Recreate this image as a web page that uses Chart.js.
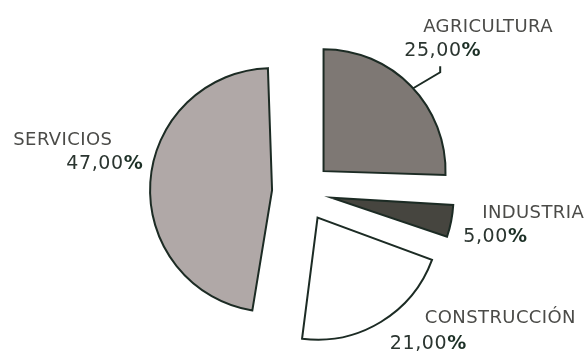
<!DOCTYPE html>
<html>
<head>
<meta charset="utf-8">
<script src="https://cdn.jsdelivr.net/npm/chart.js@4/dist/chart.umd.min.js"></script>
<style>
    html, body { margin: 0; padding: 0; background: #fff; }
    #wrap { width: 586px; height: 352px; }
</style>
</head>
<body>
<div id="wrap"><canvas id="sectorChart"></canvas></div>
<script>
// Employment by sector
const sectors = ['AGRICULTURA', 'INDUSTRIA', 'CONSTRUCCIÓN', 'SERVICIOS'];
const shares = [25, 5, 21, 47];
const sliceColors = ['#7e7874', '#46453f', '#ffffff', '#b0a8a7'];

// Where each label sits, relative to the outer midpoint of its slice
const labelLayout = [
    { name: [12, -59], value: [-7, -35], align: 'left', leader: true },
    { name: [31, -8], value: [12, 16], align: 'left' },
    { name: [44, -4], value: [9, 22], align: 'left' },
    { name: [-38, -42], value: [-7, -18], align: 'right' }
];

const lineColor = '#1c2b24';
const pieRadius = 122;
const explode = 30; // distance every slice is pulled out

const total = shares.reduce((a, b) => a + b, 0);

// Chart.js moves an arc by offset / 4 and, for thin or wide slices,
// also grows its radius by offset / 4 * fix
function sliceFix(i) {
    const circ = shares[i] / total * Math.PI * 2;
    return 1 - Math.sin(Math.min(Math.PI, circ));
}

function formatPct(v) {
    return v.toFixed(2).replace('.', ',');
}

// Shrink the radius back so every slice keeps the same size
const evenRadius = {
    id: 'evenRadius',
    afterDatasetUpdate(chart, args) {
        args.meta.data.forEach((arc, i) => {
            arc.outerRadius = pieRadius - explode * sliceFix(i);
        });
    }
};

// Draws name + percentage next to every slice, plus the leader on the first one
const sliceLabels = {
    id: 'sliceLabels',
    afterDatasetsDraw(chart) {
        const ctx = chart.ctx;
        const meta = chart.getDatasetMeta(0);
        meta.data.forEach((arc, i) => {
            const p = arc.getProps(['x', 'y', 'startAngle', 'endAngle'], true);
            const mid = (p.startAngle + p.endAngle) / 2;
            const ex = p.x + Math.cos(mid) * (pieRadius + explode);
            const ey = p.y + Math.sin(mid) * (pieRadius + explode);
            const lay = labelLayout[i];

            ctx.save();
            ctx.textBaseline = 'middle';

            // category name
            ctx.font = '18px "DejaVu Sans"';
            ctx.letterSpacing = '0.4px';
            ctx.fillStyle = '#4b4b48';
            ctx.textAlign = lay.align;
            ctx.fillText(sectors[i], ex + lay.name[0], ey + lay.name[1]);

            // value: digits regular, percent sign bold
            const num = formatPct(shares[i]);
            ctx.letterSpacing = '0.6px';
            ctx.font = '19px "DejaVu Sans"';
            const numW = ctx.measureText(num).width;
            ctx.font = 'bold 19px "DejaVu Sans"';
            const pctW = ctx.measureText('%').width;
            let vx = ex + lay.value[0];
            if (lay.align === 'right') vx -= numW + pctW;
            const vy = ey + lay.value[1];
            ctx.textAlign = 'left';
            ctx.font = '19px "DejaVu Sans"';
            ctx.fillStyle = '#2b3530';
            ctx.fillText(num, vx, vy);
            ctx.font = 'bold 19px "DejaVu Sans"';
            ctx.fillStyle = '#1c3026';
            ctx.fillText('%', vx + numW, vy);

            if (lay.leader) {
                const mx = vx + 36;
                ctx.strokeStyle = lineColor;
                ctx.lineWidth = 2;
                ctx.beginPath();
                ctx.moveTo(ex + 2, ey + 2);
                ctx.lineTo(mx, vy + 21);
                ctx.lineTo(mx, vy + 15);
                ctx.stroke();
            }
            ctx.restore();
        });
    }
};

new Chart(document.getElementById('sectorChart'), {
    type: 'pie',
    data: {
        labels: sectors,
        datasets: [{
            data: shares,
            backgroundColor: sliceColors,
            borderColor: lineColor,
            borderWidth: 2,
            borderJoinStyle: 'miter',
            offset: explode * 4,
            hoverOffset: 0
        }]
    },
    options: {
        responsive: true,
        maintainAspectRatio: false,
        animation: false,
        radius: pieRadius,
        layout: { padding: { left: 18, right: 0, top: 32, bottom: 0 } },
        plugins: {
            legend: { display: false },
            tooltip: { enabled: false }
        }
    },
    plugins: [evenRadius, sliceLabels]
});
</script>
</body>
</html>
